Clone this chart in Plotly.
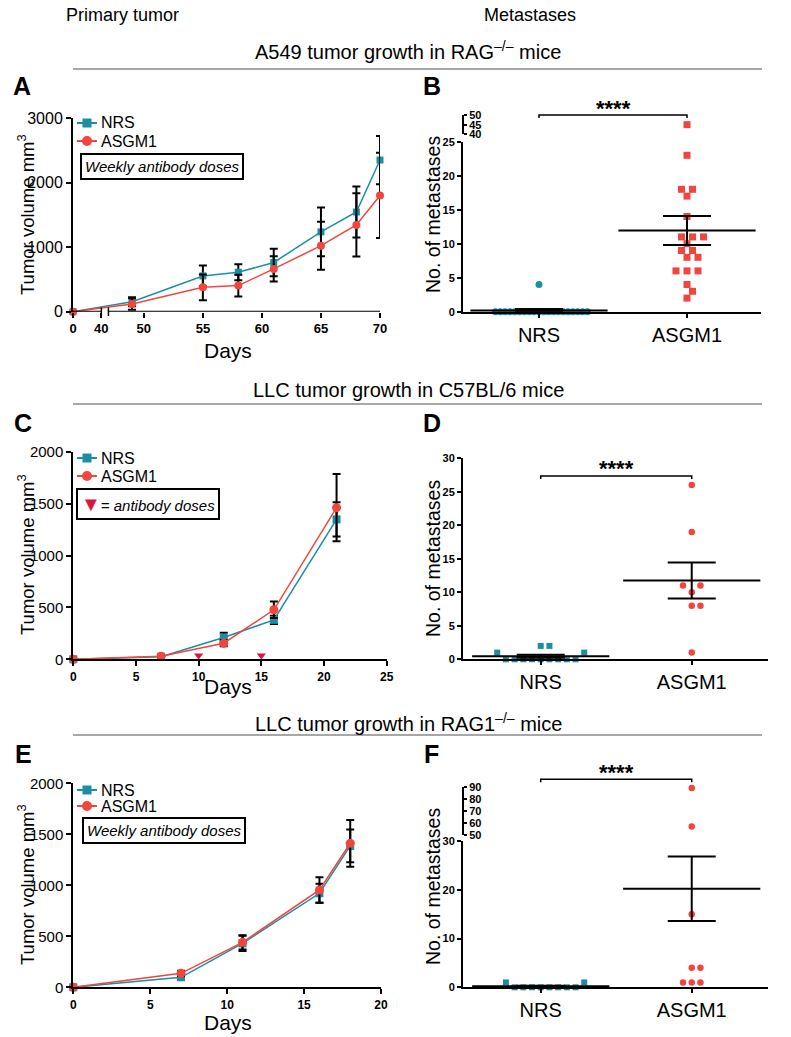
import numpy as np
import plotly.graph_objects as go

W, H = 791, 1037
TEAL = '#1b8ea6'
RED = '#f2453d'
DOSE = '#e0113f'
FONT = 'Liberation Sans'

# ---- Panel A: A549 tumor growth, RAG-/- mice (days, mm3, +/- SEM)
a_days = [0, 49, 55, 58, 61, 65, 68, 70]
a_nrs = [0, 155, 554, 611, 762, 1236, 1544, 2349]
a_nrs_err = [0, 70, 160, 125, 212, 378, 394, 374]
a_asg = [0, 120, 378, 404, 663, 1022, 1344, 1800]
a_asg_err = [0, 90, 200, 170, 197, 372, 490, 660]
a_ticks = [0, 40, 50, 55, 60, 65, 70]

# ---- Panel C: LLC tumor growth, C57BL/6 mice
c_days = [0, 7, 12, 16, 21]
c_nrs = [0, 25, 210, 380, 1348]
c_nrs_err = [0, 10, 45, 40, 165]
c_asg = [0, 30, 155, 477, 1461]
c_asg_err = [0, 10, 30, 80, 323]
c_dose_days = [10, 15]

# ---- Panel E: LLC tumor growth, RAG1-/- mice
e_days = [0, 7, 11, 16, 18]
e_nrs = [0, 98, 431, 922, 1386]
e_nrs_err = [0, 15, 75, 92, 160]
e_asg = [0, 137, 441, 954, 1412]
e_asg_err = [0, 25, 70, 124, 229]

# ---- Metastases counts
groups = ['NRS', 'ASGM1']
b_nrs = [0, 0, 0, 0, 0, 0, 0, 0, 0, 0, 0, 0, 0, 0, 0, 0, 0, 0, 0, 0, 4]
b_asg = [45, 23, 18, 18, 17, 14, 11, 11, 11, 10, 9, 9, 8, 8, 6, 6, 6, 4, 3, 2]
b_mean = [0.19, 11.95]
b_sem = [0.19, 2.13]

d_nrs = [0, 0, 0, 0, 0, 0, 0, 0, 0, 1, 1, 2, 2]
d_asg = [26, 19, 11, 11, 10, 8, 8, 1]
d_mean = [0.46, 11.75]
d_sem = [0.22, 2.68]

f_nrs = [0, 0, 0, 0, 0, 0, 0, 0, 1, 1]
f_asg = [89, 57, 15, 4, 4, 1, 1, 1]
f_mean = [0.2, 20.2]
f_sem = [0.13, 6.6]


def fx(px):
    return px / W


def fy(py):
    return 1 - py / H


def a_axis(day):
    # broken x axis: 0-40 squeezed, then 47-70 at full scale
    return day * 0.06 if day <= 40 else day - 44


def swarm(values, ypx, step, gap):
    # simple beeswarm: horizontal offsets in px
    offs = [0.0] * len(values)
    placed = []
    cands = [0.0] + [s * j * step for j in range(1, 80) for s in (1, -1)]
    for i in np.argsort(values, kind='stable'):
        y = values[i] * ypx
        for c in cands:
            if all((c - px) ** 2 + (y - py) ** 2 >= gap ** 2 for px, py in placed):
                break
        placed.append((c, y))
        offs[i] = c
    return offs


fig = go.Figure()

axis_common = dict(showgrid=False, zeroline=False, showline=True, linecolor='black', automargin=False,
                   linewidth=2, ticks='outside', ticklen=5, tickwidth=2, tickcolor='black')


def add_growth(days, nrs, nrs_err, asg, asg_err, xa, ya, msize, xmap=None):
    xs = [xmap(d) for d in days] if xmap else days
    for name, vals, err, col, sym, sz in [('NRS', nrs, nrs_err, TEAL, 'square', msize),
                                          ('ASGM1', asg, asg_err, RED, 'circle', msize + 1)]:
        fig.add_trace(go.Scatter(
            x=xs, y=vals, name=name, mode='lines+markers', xaxis=xa, yaxis=ya, showlegend=False,
            line=dict(color=col, width=1.5), marker=dict(symbol=sym, size=sz, color=col),
            error_y=dict(type='data', array=err, color='black', thickness=2, width=4),
            cliponaxis=False))


add_growth(a_days, a_nrs, a_nrs_err, a_asg, a_asg_err, 'x', 'y', 7, a_axis)
add_growth(c_days, c_nrs, c_nrs_err, c_asg, c_asg_err, 'x3', 'y4', 8)
add_growth(e_days, e_nrs, e_nrs_err, e_asg, e_asg_err, 'x5', 'y6', 8)

fig.add_trace(go.Scatter(
    x=c_dose_days, y=[36] * len(c_dose_days), mode='markers', xaxis='x3', yaxis='y4',
    marker=dict(symbol='triangle-down', size=8, color=DOSE), showlegend=False, cliponaxis=False))


def add_dots(xa, ya, vals, cat, xpx, ypx, step, gap, color, symbol, size, break_at=None, ya_up=None):
    low = [v for v in vals if break_at is None or v < break_at]
    high = [v for v in vals if break_at is not None and v >= break_at]
    offs = swarm(low, ypx, step, gap)
    fig.add_trace(go.Scatter(
        x=[cat + o / xpx for o in offs], y=low, mode='markers', xaxis=xa, yaxis=ya,
        marker=dict(symbol=symbol, size=size, color=color), showlegend=False, cliponaxis=False))
    if high:
        fig.add_trace(go.Scatter(
            x=[cat] * len(high), y=high, mode='markers', xaxis=xa, yaxis=ya_up,
            marker=dict(symbol=symbol, size=size, color=color), showlegend=False, cliponaxis=False))


def add_mean(xa, ya, mean, sem):
    fig.add_trace(go.Scatter(
        x=[0, 1], y=mean, mode='markers', xaxis=xa, yaxis=ya, showlegend=False, cliponaxis=False,
        marker=dict(symbol='line-ew', size=98, color='black', line=dict(width=2, color='black')),
        error_y=dict(type='data', array=sem, color='black', thickness=2, width=24)))


# B
add_dots('x2', 'y2', b_nrs, 0, 148, 6.8, 2.42, 4.5, TEAL, 'circle', 7)
add_dots('x2', 'y2', b_asg, 1, 148, 6.8, 5.5, 8.5, RED, 'square', 7, break_at=30, ya_up='y3')
add_mean('x2', 'y2', b_mean, b_sem)
# D
add_dots('x4', 'y5', d_nrs, 0, 151, 6.7, 4.35, 8.5, TEAL, 'square', 6)
add_dots('x4', 'y5', d_asg, 1, 151, 6.7, 4.35, 8.5, RED, 'circle', 6.5)
add_mean('x4', 'y5', d_mean, d_sem)
# F
add_dots('x6', 'y7', f_nrs, 0, 151, 4.87, 4.35, 8.5, TEAL, 'square', 6)
add_dots('x6', 'y7', f_asg, 1, 151, 4.87, 4.35, 8.5, RED, 'circle', 6.5, break_at=40, ya_up='y8')
add_mean('x6', 'y7', f_mean, f_sem)

small_bold = dict(size=11, color='black', weight='bold')

layout = dict(
    template='none',
    width=W, height=H, margin=dict(l=0, r=0, t=0, b=0, autoexpand=False),
    paper_bgcolor='white', plot_bgcolor='white', showlegend=False,
    font=dict(family=FONT, color='black'),
    # A
    xaxis=dict(axis_common, domain=[fx(73), fx(380)], range=[0, 26], anchor='y', showline=False,
               tickvals=[a_axis(t) for t in a_ticks], ticktext=[str(t) for t in a_ticks],
               tickfont=dict(size=13, weight='bold')),
    yaxis=dict(axis_common, domain=[fy(311.7), fy(118)], range=[0, 3000], anchor='x',
               tickvals=[0, 1000, 2000, 3000], tickfont=dict(size=16)),
    # B
    xaxis2=dict(axis_common, domain=[fx(463), fx(761)], range=[-0.5135, 1.5], anchor='y2',
                tickvals=[0, 1], ticktext=groups, ticklen=4, tickfont=dict(size=20)),
    yaxis2=dict(axis_common, domain=[fy(311.7), fy(141.7)], range=[0, 25], anchor='x2',
                tickvals=[0, 5, 10, 15, 20, 25], ticklen=4, tickfont=small_bold),
    yaxis3=dict(axis_common, domain=[fy(134.3), fy(115)], range=[40, 50], anchor='free',
                position=fx(463), side='right', tickvals=[40, 45, 50], ticklen=3,
                tickfont=small_bold),
    # C
    xaxis3=dict(axis_common, domain=[fx(73.3), fx(386.7)], range=[0, 25], anchor='y4',
                tickvals=[0, 5, 10, 15, 20, 25], tickfont=dict(size=12, weight='bold')),
    yaxis4=dict(axis_common, domain=[fy(659.3), fy(451.7)], range=[0, 2000], anchor='x3',
                tickvals=[0, 500, 1000, 1500, 2000], tickfont=dict(size=15)),
    # D
    xaxis4=dict(axis_common, domain=[fx(463), fx(768)], range=[-0.5146, 1.505], anchor='y5',
                tickvals=[0, 1], ticktext=groups, ticklen=4, tickfont=dict(size=20)),
    yaxis5=dict(axis_common, domain=[fy(659.3), fy(458.3)], range=[0, 30], anchor='x4',
                tickvals=[0, 5, 10, 15, 20, 25, 30], ticklen=4, tickfont=small_bold),
    # E
    xaxis5=dict(axis_common, domain=[fx(73.3), fx(381)], range=[0, 20], anchor='y6',
                tickvals=[0, 5, 10, 15, 20], tickfont=dict(size=12, weight='bold')),
    yaxis6=dict(axis_common, domain=[fy(987.3), fy(783.3)], range=[0, 2000], anchor='x5',
                tickvals=[0, 500, 1000, 1500, 2000], tickfont=dict(size=15)),
    # F
    xaxis6=dict(axis_common, domain=[fx(463), fx(768)], range=[-0.5146, 1.505], anchor='y7',
                tickvals=[0, 1], ticktext=groups, ticklen=4, tickfont=dict(size=20)),
    yaxis7=dict(axis_common, domain=[fy(987.3), fy(841)], range=[0, 30], anchor='x6',
                tickvals=[0, 10, 20, 30], ticklen=4, tickfont=small_bold),
    yaxis8=dict(axis_common, domain=[fy(835), fy(786.7)], range=[50, 90], anchor='free',
                position=fx(463), side='right', tickvals=[50, 60, 70, 80, 90], ticklen=3,
                tickfont=small_bold),
)

ann = []
shapes = []


def text(x, y, s, size, xanchor='center', **kw):
    font = dict(size=size, family=FONT, color='black')
    font.update(kw.pop('font', {}))
    ann.append(dict(x=fx(x), y=fy(y), xref='paper', yref='paper', text=s, showarrow=False,
                    xanchor=xanchor, yanchor='middle', font=font, **kw))


text(122, 15, 'Primary tumor', 18)
text(530, 15, 'Metastases', 18)
text(408, 50, 'A549 tumor growth in RAG<sup>–/–</sup> mice', 20)
text(408, 390, 'LLC tumor growth in C57BL/6 mice', 20)
text(408, 722, 'LLC tumor growth in RAG1<sup>–/–</sup> mice', 20)

for lab, x, y in [('A', 22, 86), ('B', 432, 86), ('C', 23, 423), ('D', 432, 423),
                  ('E', 23, 754), ('F', 431, 754)]:
    text(x, y, lab, 25, font=dict(weight='bold'))

for y in [215, 555, 885]:
    text(26, y, 'Tumor volume mm<sup>3</sup>', 18.5, textangle=-90)
for y in [350, 686, 1022]:
    text(228, y, 'Days', 21)
for y in [215, 559, 887]:
    text(433, y, 'No. of metastases', 19.5, textangle=-90)

box = dict(bordercolor='black', borderwidth=2, borderpad=3, bgcolor='white')
text(162, 166.5, '<i>Weekly antibody doses</i>', 15, **box)
text(148, 503.5, '<span style="color:%s;font-size:20px">▼</span><i>= antibody doses</i>' % DOSE, 15, **box)
text(164, 830, '<i>Weekly antibody doses</i>', 15, **box)

# hand-placed legends (NRS / ASGM1) for the growth panels
for y_nrs, y_asg in [(123, 141), (458, 476), (790, 806)]:
    for y, name, col, kind in [(y_nrs, 'NRS', TEAL, 'rect'), (y_asg, 'ASGM1', RED, 'circle')]:
        shapes.append(dict(type='line', xref='paper', yref='paper', x0=fx(77), x1=fx(97),
                           y0=fy(y), y1=fy(y), line=dict(color=col, width=2)))
        r = 4.5 if kind == 'rect' else 5
        shapes.append(dict(type=kind, xref='paper', yref='paper', x0=fx(87 - r), x1=fx(87 + r),
                           y0=fy(y + r), y1=fy(y - r), fillcolor=col, line=dict(width=0)))
        text(99, y, name, 16, xanchor='left')

# significance brackets and stars
for xa, y in [('x2', 115), ('x4', 476), ('x6', 779.3)]:
    shapes.append(dict(type='path', xref=xa, yref='paper',
                       path='M 0,%f L 0,%f L 1,%f L 1,%f' % (fy(y + 3), fy(y), fy(y), fy(y + 3)),
                       line=dict(color='black', width=1.5)))
    ann.append(dict(x=0.5, y=fy(y + 7.5), xref=xa, yref='paper', text='<b>****</b>', showarrow=False,
                    xanchor='center', yanchor='bottom', font=dict(size=22, family=FONT, color='black')))

layout['annotations'] = ann

for y in [69, 404, 735]:
    shapes.append(dict(type='line', xref='paper', yref='paper', x0=fx(73), x1=fx(762),
                       y0=fy(y), y1=fy(y), line=dict(color='#8a8a8a', width=1.5)))
# A broken x axis
for x0, x1 in [(0, a_axis(40)), (a_axis(47), a_axis(70))]:
    shapes.append(dict(type='line', xref='x', yref='y', x0=x0, x1=x1, y0=0, y1=0,
                       line=dict(color='black', width=2)))
for xb in [a_axis(40), a_axis(47)]:
    shapes.append(dict(type='line', xref='x', yref='paper', x0=xb, x1=xb,
                       y0=fy(316), y1=fy(307.5), line=dict(color='black', width=1.5)))
layout['shapes'] = shapes

fig.update_layout(**layout)
fig.write_html('out.html', config={'displayModeBar': False},
               post_script="document.body.style.margin='0';"
                           "document.body.style.overflow='hidden';"
                           "document.documentElement.style.overflow='hidden';")
